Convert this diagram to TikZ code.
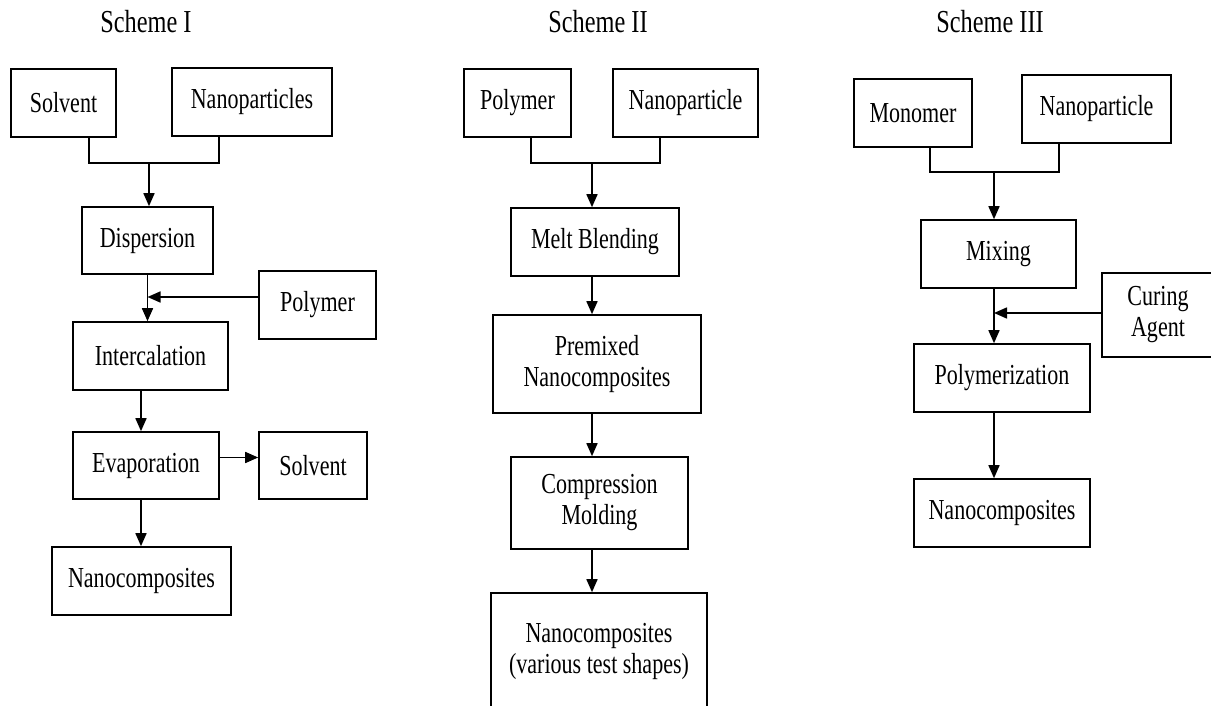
\documentclass[tikz,border=0pt]{standalone}
\usepackage{fontspec}
\setmainfont[FakeStretch=0.76]{Liberation Serif}
\usetikzlibrary{arrows.meta}

\begin{document}
\begin{tikzpicture}[x=1pt,y=-1pt,
  every node/.style={font=\fontsize{29}{31}\selectfont},
  box/.style 2 args={draw,line width=1.6pt,minimum width=#1pt,minimum height=#2pt,align=center,inner sep=0pt},
  title/.style={font=\fontsize{32}{34}\selectfont},
  link/.style={line width=1.6pt},
  arr/.style={link,-{Triangle[length=13pt,width=11pt]}}
]
\useasboundingbox (0,0) rectangle (1211,706);
\clip (0,0) rectangle (1211,706);

% Scheme I
\node[title] (t1) at (146,22) {Scheme I};
\node[box={105}{68}] (sol1) at (63.5,103) {Solvent};
\node[box={160}{68}] (nano1) at (252,102) {Nanoparticles};
\node[box={131}{67}] (disp) at (147.5,240.5) {Dispersion};
\node[box={117}{68}] (poly1) at (317.5,305) {Polymer};
\node[box={155}{68}] (inter) at (150.5,356) {Intercalation};
\node[box={146}{67}] (evap) at (146,465.5) {Evaporation};
\node[box={108}{67}] (sol2) at (313,465.5) {Solvent};
\node[box={179}{68}] (comp1) at (141.5,581) {Nanocomposites};

\coordinate (j1) at (149,163);
\coordinate (c1) at (141,0);
\draw[link] ([xshift=25.5pt]sol1.south) |- (j1) -| ([xshift=-33pt]nano1.south);
\draw[arr] (j1) -- (j1 |- disp.north);
\draw[arr] (disp.south) -- (disp.south |- inter.north);
\draw[arr] ([yshift=8pt]poly1.west) -- ([yshift=8pt]poly1.west -| disp.south);
\foreach \a/\b in {inter/evap,evap/comp1}
  \draw[arr] (\a.south -| c1) -- (\b.north -| c1);
\draw[arr] ([yshift=8pt]evap.east) -- ([yshift=8pt]sol2.west);

% Scheme II
\node[title] (t2) at (598,22) {Scheme II};
\node[box={107}{68}] (poly2) at (517.5,103) {Polymer};
\node[box={145}{68}] (nano2) at (685.5,103) {Nanoparticle};
\node[box={168}{68}] (melt) at (595,242) {Melt Blending};
\node[box={208}{98}] (premix) at (597,364) {Premixed\\Nanocomposites};
\node[box={177}{92}] (compr) at (599.5,503) {Compression\\Molding};
\node[box={216}{117}] (final) at (599,651.5) {Nanocomposites\\(various test shapes)};

\coordinate (j2) at (592,163);
\draw[link] ([xshift=13.5pt]poly2.south) |- (j2) -| ([xshift=-25.5pt]nano2.south);
\draw[arr] (j2) -- (j2 |- melt.north);
\foreach \a/\b in {melt/premix,premix/compr,compr/final}
  \draw[arr] (\a.south -| j2) -- (\b.north -| j2);

% Scheme III
\node[title] (t3) at (990,22) {Scheme III};
\node[box={118}{68}] (mono) at (913,113) {Monomer};
\node[box={149}{68}] (nano3) at (1096.5,109) {Nanoparticle};
\node[box={155}{68}] (mix) at (998.5,254) {Mixing};
\node[box={112}{84}] (cure) at (1158,315) {Curing\\Agent};
\node[box={176}{68}] (polym) at (1002,378) {Polymerization};
\node[box={176}{68}] (comp3) at (1002,513) {Nanocomposites};

\coordinate (j3) at (994,172);
\draw[link] ([xshift=17pt]mono.south) |- (j3) -| ([xshift=-37.5pt]nano3.south);
\draw[arr] (j3) -- (j3 |- mix.north);
\foreach \a/\b in {mix/polym,polym/comp3}
  \draw[arr] (\a.south -| j3) -- (\b.north -| j3);
\draw[arr] ([yshift=2pt]cure.west) -- ([yshift=2pt]cure.west -| j3);
\end{tikzpicture}
\end{document}
